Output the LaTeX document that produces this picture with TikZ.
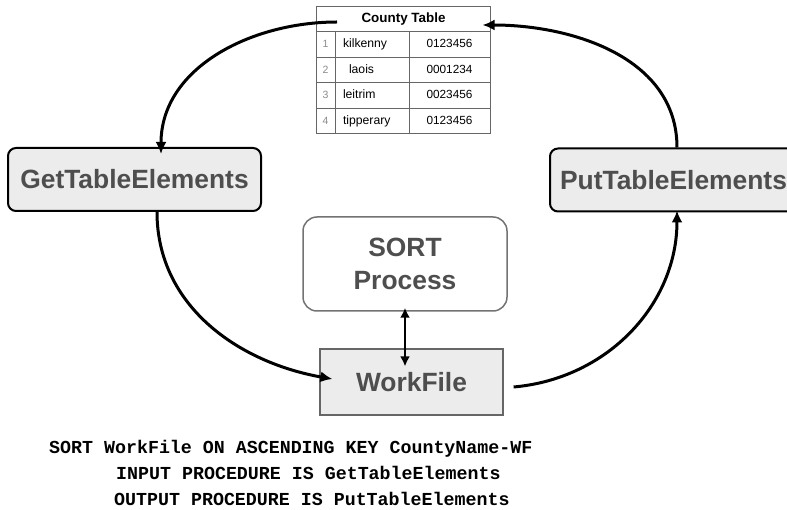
\documentclass[tikz,border=0pt]{standalone}
\usepackage{fontspec}
\setmainfont{Liberation Sans}
\setmonofont{Liberation Mono}
\usetikzlibrary{arrows.meta, calc}

\begin{document}
\begin{tikzpicture}[x=1pt, y=1pt]
    % Define styles for nodes and edges
    \tikzset{
        procbox/.style={draw=black, line width=2pt, rounded corners=8pt, fill=boxgray, minimum width=253pt, minimum height=63pt, inner sep=0pt, text=labelgray, font=\fontsize{26.4}{33}\selectfont\bfseries},
        sortbox/.style={draw=black!55, line width=1.5pt, rounded corners=14pt, fill=white, minimum width=204pt, minimum height=94pt, inner sep=0pt, align=center, text=labelgray, font=\fontsize{26.4}{33}\selectfont\bfseries},
        filebox/.style={draw=black!60, line width=1.2pt, fill=boxgray, minimum width=183pt, minimum height=66pt, inner sep=0pt, text=labelgray, font=\fontsize{26.4}{33}\selectfont\bfseries},
        cell/.style={draw=black!60, line width=1pt, fill=white, minimum height=25.5pt, inner sep=0pt, text height=9pt, text depth=3pt},
        flow/.style={draw=black, line width=3pt, -{Latex[length=12pt,width=11pt]}},
        dflow/.style={draw=black, line width=2.8pt, {Latex[length=10pt,width=10pt]}-{Latex[length=10pt,width=10pt]}},
        codeline/.style={anchor=base west, inner sep=0pt, font=\fontsize{18.3}{24}\selectfont\ttfamily\bfseries}
    }
    \definecolor{boxgray}{RGB}{236,236,236}
    \definecolor{labelgray}{RGB}{78,78,78}

    \useasboundingbox (0,0) rectangle (787,509);
    \clip (0,0) rectangle (787,509);

    % ==========================================
    % COUNTY TABLE
    % ==========================================
    \node[cell, minimum width=174pt, font=\fontsize{13.4}{16}\selectfont\bfseries] (hdr) at (403.5,489.5) {County Table};
    \foreach \i/\county/\digits in {1/kilkenny/0123456, 2/\kern6pt laois/0001234, 3/leitrim/0023456, 4/tipperary/0123456} {
        \node[cell, minimum width=19pt, text=black!45, font=\fontsize{10.5}{12}\selectfont] (idx\i) at (325.5,{489.75-25.5*\i}) {\i};
        \node[cell, minimum width=74pt, text width=58pt, inner xsep=8pt, align=left, font=\fontsize{12.2}{14}\selectfont] (name\i) at (372,{489.75-25.5*\i}) {\county};
        \node[cell, minimum width=81pt, font=\fontsize{11.8}{14}\selectfont] (num\i) at (449.5,{489.75-25.5*\i}) {\digits};
    }

    % ==========================================
    % PROCEDURES AND SORT
    % ==========================================
    \node[procbox] (get) at (134.5,329.5) {GetTableElements};
    \node[procbox, minimum width=247pt, anchor=west] (put) at (549,329) {PutTableElements};
    \node[sortbox] (sort) at (405,245) {SORT\\Process};
    \node[filebox] (work) at (411.5,127) {WorkFile};

    % Loop of arrows round the picture
    \draw[flow] ([xshift=21pt,yshift=-2.5pt]hdr.west) to[out=180, in=90] ([xshift=26.5pt,yshift=-7pt]get.north);
    \draw[flow] ([xshift=22.5pt]get.south) to[out=-90, in=170] ([xshift=13pt,yshift=3pt]work.west);
    \draw[flow] ([xshift=10pt,yshift=-5pt]work.east) to[out=5, in=-90] ([xshift=128pt,yshift=2pt]put.south west);
    \draw[flow] ([xshift=128pt]put.north west) to[out=90, in=0] ([xshift=-8.5pt,yshift=-5.5pt]hdr.east);

    % SORT talks to the work file both ways
    \draw[dflow, shorten <=-4pt, shorten >=-18pt] (sort.south) -- (sort.south |- work.north);

    % ==========================================
    % COBOL STATEMENT
    % ==========================================
    \node[codeline] (sortline) at (49,56) {SORT WorkFile ON ASCENDING KEY CountyName-WF};
    \node[codeline] (inputline) at (116,29.5) {INPUT PROCEDURE IS GetTableElements};
    \node[codeline] (outputline) at (114,4) {OUTPUT PROCEDURE IS PutTableElements};

\end{tikzpicture}
\end{document}
